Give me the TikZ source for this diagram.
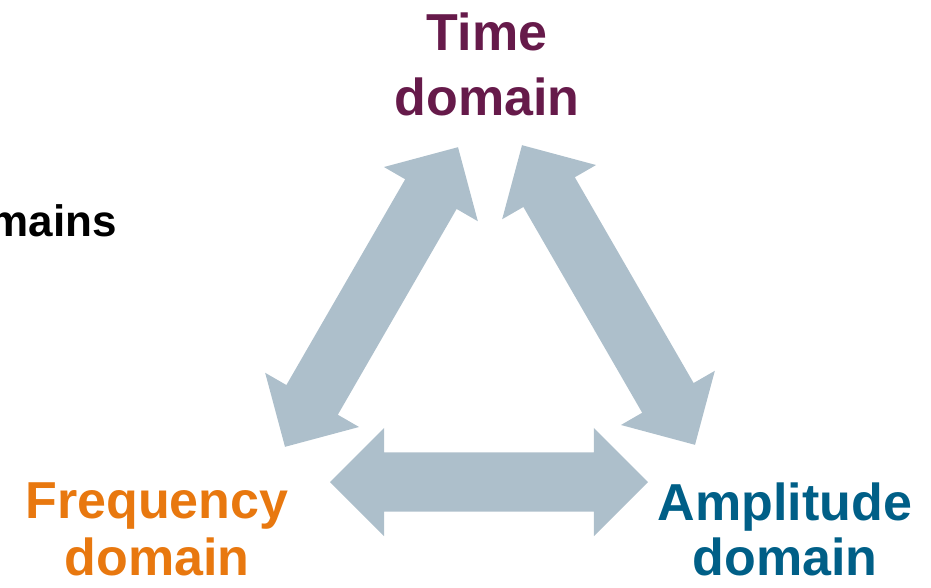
\documentclass[tikz,border=0pt]{standalone}
\usepackage{fontspec}
\setmainfont{Liberation Sans}
\usetikzlibrary{shapes.arrows}
\definecolor{dmtime}{HTML}{661A4A}
\definecolor{dmfreq}{HTML}{E8780F}
\definecolor{dmampl}{HTML}{005F87}
\definecolor{dmarrow}{HTML}{ADBFCB}

\begin{document}
\begin{tikzpicture}[
    x=1pt,
    y=-1pt,
    dom/.style={align=center, inner sep=0pt, anchor=base},
    dblarr/.style={double arrow, fill=dmarrow, draw=none, inner xsep=0pt, inner ysep=29.5pt, double arrow head extend=24.5pt, double arrow tip angle=90}
  ]
    \useasboundingbox (0,0) rectangle (931,587);

    % base anchor sits on the last line
    \node[dom, text=dmtime, font=\bfseries\fontsize{52}{65}\selectfont] (time) at (487,115) {Time\\domain};
    \node[dom, text=dmfreq, font=\bfseries\fontsize{52}{57}\selectfont] (freq) at (157,575) {Frequency\\domain};
    \node[dom, text=dmampl, font=\bfseries\fontsize{52}{55}\selectfont] (ampl) at (785,575) {Amplitude\\domain};
    \node[anchor=base east, inner sep=0pt, font=\bfseries\fontsize{44}{50}\selectfont] (title) at (117,236) {mains};

    \node[dblarr, minimum height=346pt, rotate=60] (timefreq) at (371.5,297) {};
    \node[dblarr, minimum height=346pt, rotate=-60] (timeampl) at (608.5,295) {};
    \node[dblarr, minimum height=318pt] (freqampl) at (489,482) {};
  \end{tikzpicture}
\end{document}
